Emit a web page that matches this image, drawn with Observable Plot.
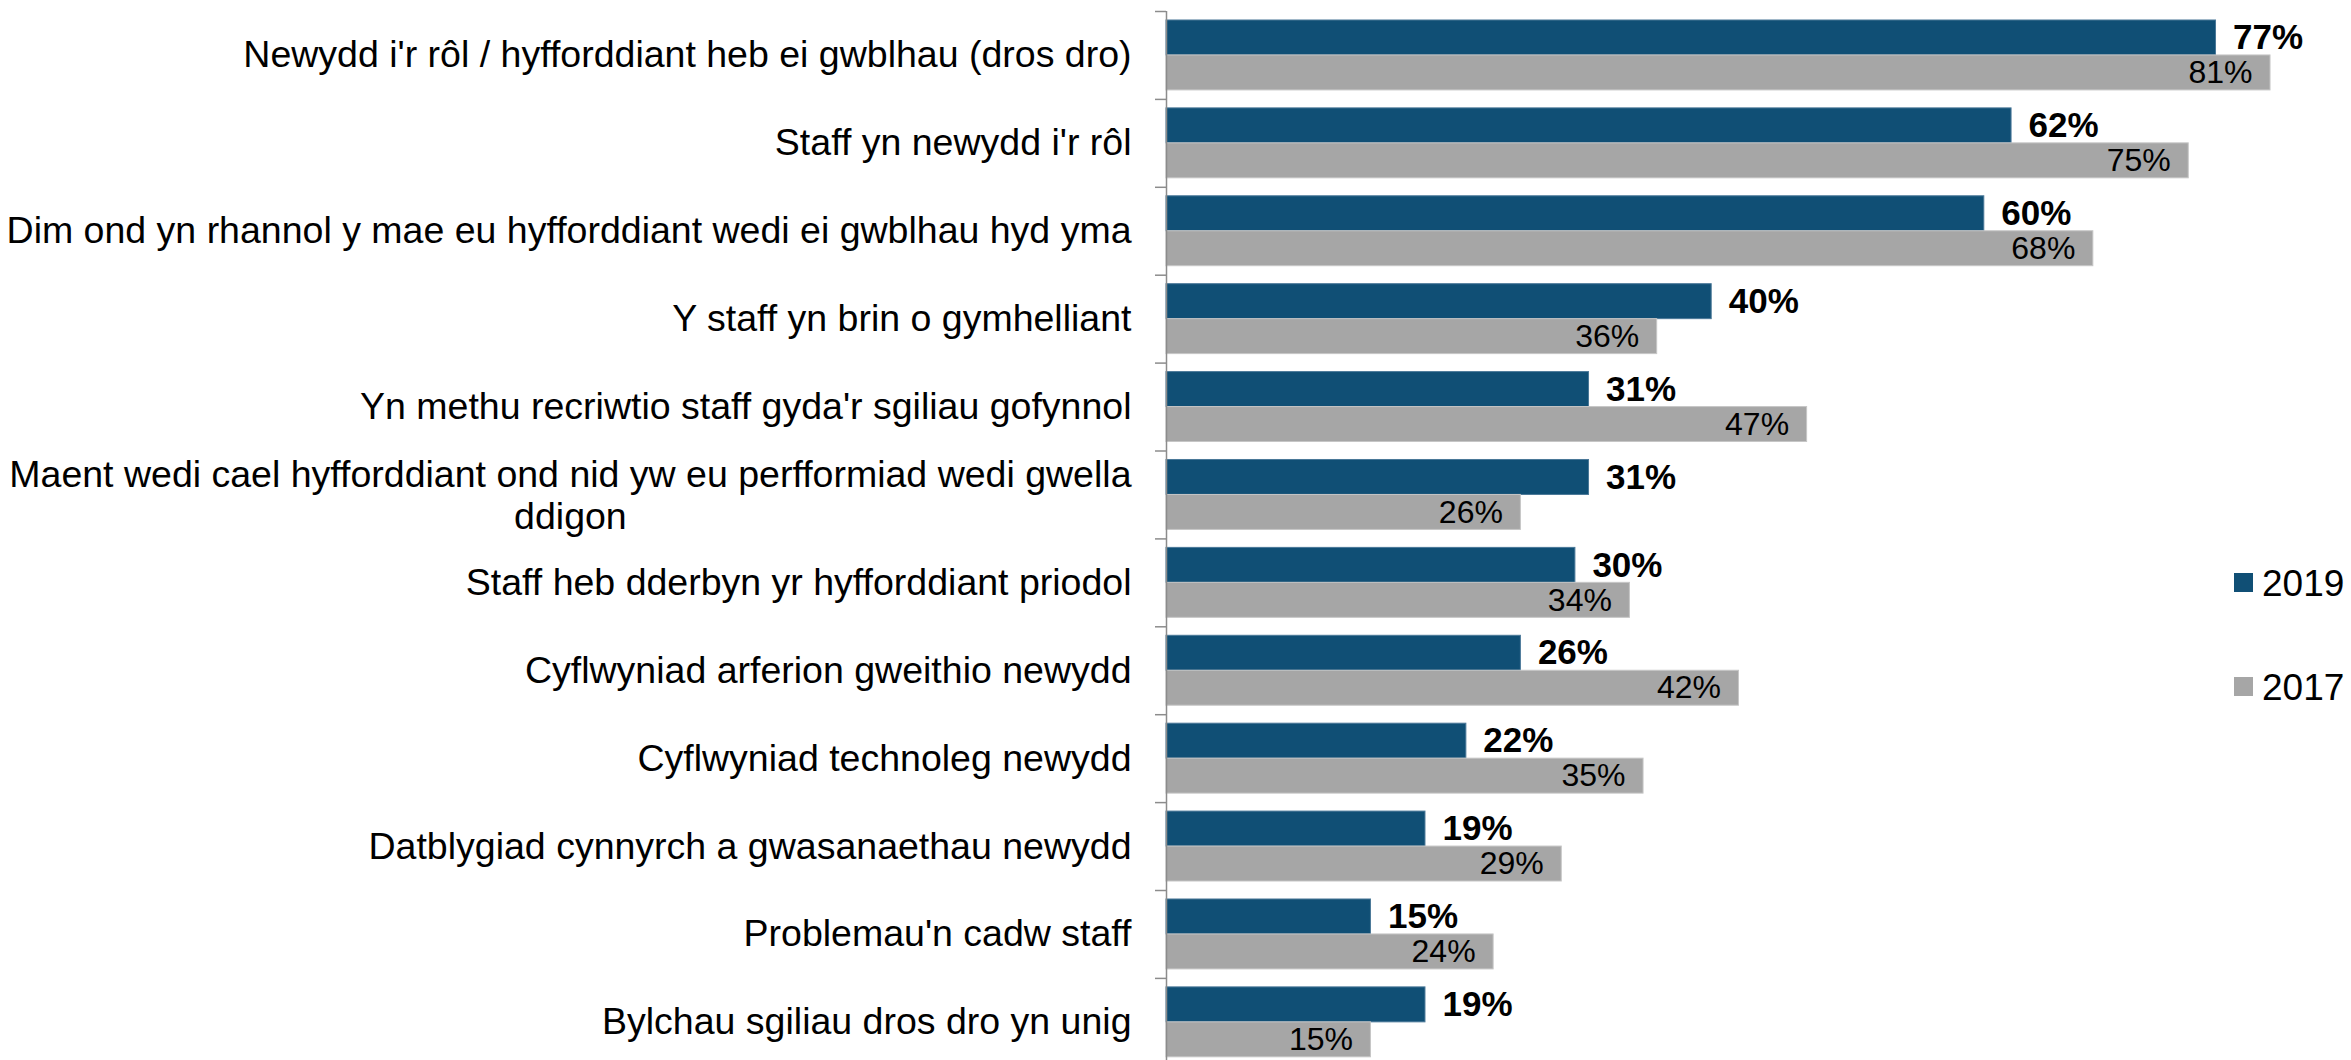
<!DOCTYPE html>
<html>
<head>
<meta charset="utf-8">
<script src="https://cdn.jsdelivr.net/npm/d3@7"></script>
<script src="https://cdn.jsdelivr.net/npm/@observablehq/plot@0.6"></script>
<style>
  html, body { margin: 0; padding: 0; background: #fff; overflow: hidden; }
  #chart { width: 2351px; height: 1060px; }
</style>
</head>
<body>
<div id="chart"></div>
<script>
const categories = [
  "Newydd i'r rôl / hyfforddiant heb ei gwblhau (dros dro)",
  "Staff yn newydd i'r rôl",
  "Dim ond yn rhannol y mae eu hyfforddiant wedi ei gwblhau hyd yma",
  "Y staff yn brin o gymhelliant",
  "Yn methu recriwtio staff gyda'r sgiliau gofynnol",
  "Maent wedi cael hyfforddiant ond nid yw eu perfformiad wedi gwella\nddigon",
  "Staff heb dderbyn yr hyfforddiant priodol",
  "Cyflwyniad arferion gweithio newydd",
  "Cyflwyniad technoleg newydd",
  "Datblygiad cynnyrch a gwasanaethau newydd",
  "Problemau'n cadw staff",
  "Bylchau sgiliau dros dro yn unig"
];
const values2019 = [77, 62, 60, 40, 31, 31, 30, 26, 22, 19, 15, 19];
const values2017 = [81, 75, 68, 36, 47, 26, 34, 42, 35, 29, 24, 15];
const seriesNames = ["2019", "2017"];
const seriesColors = ["#104F75", "#A6A6A6"];

const rows2019 = categories.map((c, i) => ({category: c, value: values2019[i]}));
const rows2017 = categories.map((c, i) => ({category: c, value: values2017[i]}));

const W = 2351, H = 1060;
const axisX = 1166, topY = 11, step = 87.9, pxPerPct = 13.63;
const bottomY = topY + step * categories.length;
const paddingInner = 18 / 88, paddingOuter = paddingInner / 2;
const band = step * (1 - paddingInner);
const half = band / 2;

const font = "'Liberation Sans', Arial, Helvetica, sans-serif";
const catSize = 37.5;
const ctx = document.createElement("canvas").getContext("2d");
ctx.font = `${catSize}px ${font}`;

const single = categories.filter(c => !c.includes("\n"));
const multi = categories.filter(c => c.includes("\n"));

const multiMarks = multi.map(m => {
  const w = Math.max(...m.split("\n").map(s => ctx.measureText(s).width));
  return Plot.text([m], {
    y: d => d, text: d => d, frameAnchor: "left", textAnchor: "middle",
    dx: -(35 + w / 2), lineHeight: 42 / catSize, fontSize: catSize, fill: "#000"
  });
});

const chart = Plot.plot({
  width: W, height: H,
  marginLeft: axisX, marginRight: 0, marginTop: topY, marginBottom: 0,
  style: {fontFamily: font, background: "#fff", color: "#000"},
  x: {domain: [0, 100], range: [axisX, axisX + 100 * pxPerPct], axis: null},
  y: {domain: categories, range: [topY, bottomY], paddingInner, paddingOuter, round: false, axis: null},
  marks: [
    Plot.barX(rows2019, {y: "category", x1: () => 0, x2: "value", fill: seriesColors[0], insetBottom: half, stroke: "#4a7898", strokeWidth: 1}),
    Plot.barX(rows2017, {y: "category", x1: () => 0, x2: "value", fill: seriesColors[1], insetTop: half, stroke: "#c6c6c6", strokeWidth: 1}),
    Plot.ruleX([0], {stroke: "#8c8c8c", strokeWidth: 1.5}),
    Plot.ruleY(categories, {y: d => d, x1: () => 0, x2: () => 0, insetLeft: -11, dy: -step / 2, stroke: "#8c8c8c", strokeWidth: 1.5}),
    Plot.text(rows2019, {y: "category", x: "value", text: d => d.value + "%", textAnchor: "start", dx: 17, dy: -half / 2, fontWeight: "bold", fontSize: 35, fill: "#000"}),
    Plot.text(rows2017, {y: "category", x: "value", text: d => d.value + "%", textAnchor: "end", dx: -18, dy: half / 2, fontSize: 32, fill: "#000"}),
    Plot.text(single, {y: d => d, text: d => d, frameAnchor: "left", textAnchor: "end", dx: -35, fontSize: catSize, fill: "#000"}),
    ...multiMarks
  ]
});

// Legend (right side, stacked vertically)
const svg = d3.select(chart);
const leg = svg.append("g")
  .attr("font-family", font).attr("font-size", 37).attr("fill", "#000")
  .attr("text-anchor", "start");
const legendCenters = [582.5, 686.5];
seriesNames.forEach((name, i) => {
  const g = leg.append("g").attr("transform", `translate(2234,${legendCenters[i]})`);
  g.append("rect").attr("x", 0).attr("y", -9.5).attr("width", 19).attr("height", 19).attr("fill", seriesColors[i]);
  g.append("text").attr("x", 28).attr("y", 13).attr("text-anchor", "start").text(name);
});

document.getElementById("chart").appendChild(chart);
</script>
</body>
</html>
